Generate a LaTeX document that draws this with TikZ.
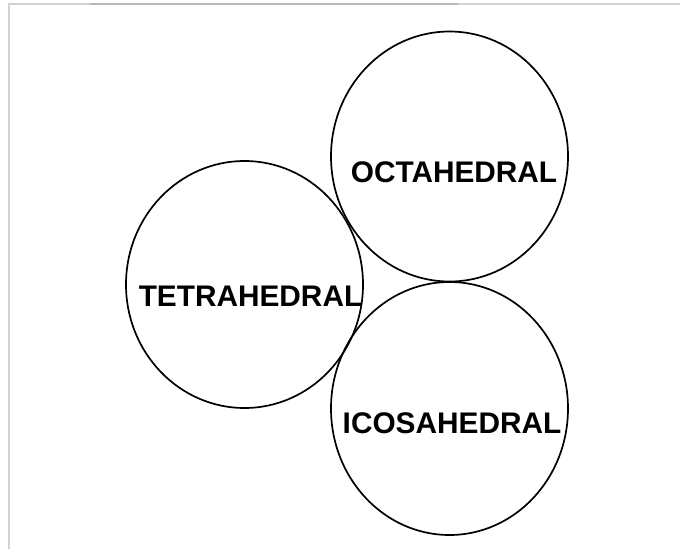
\documentclass[tikz,border=0pt]{standalone}
\usepackage{fontspec}
\setmainfont{Liberation Sans}
\usetikzlibrary{shapes.geometric}
\tikzset{
  sfera/.style={ellipse, draw, line width=1.7pt, inner sep=0pt,
    minimum width=237pt, minimum height=250pt},
  nome/.style={anchor=base, inner sep=0pt,
    font=\bfseries\fontsize{29.8}{36}\selectfont}
}
\begin{document}
\begin{tikzpicture}[x=1pt,y=-1pt]
        \useasboundingbox (0,0) rectangle (680,549);
        \fill[white] (0,0) rectangle (680,549);
        
        % Cornice
        \draw[line width=1.2pt, gray!35] (9,549) -- (9,4) -- (680,4);
        \draw[line width=1.2pt, gray!55] (90,4) -- (458,4);
        
        % Sfere
        \node[sfera] (octa) at (449.5,156.5) {};
        \node[sfera, minimum height=247pt] (tetra) at (244.5,284.5) {};
        \node[sfera, minimum height=253pt] (icosa) at (449.5,408.5) {};
        
        % Etichette
        \node[nome] (octatxt) at (454,182) {OCTAHEDRAL};
        \node[nome] (tetratxt) at (250.5,306) {TETRAHEDRAL};
        \node[nome] (icosatxt) at (452,433) {ICOSAHEDRAL};
    \end{tikzpicture}
\end{document}
